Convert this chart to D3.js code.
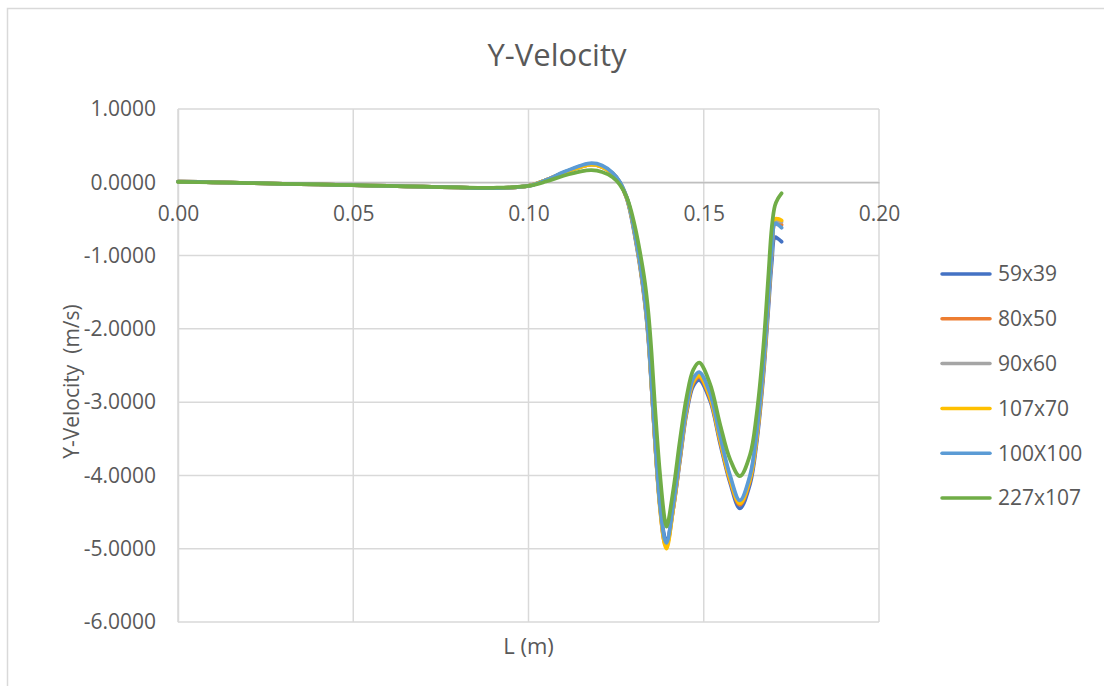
<!DOCTYPE html>
<html>
<head>
<meta charset="utf-8">
<script src="https://cdn.jsdelivr.net/npm/d3@7"></script>
<style>
  html, body { margin: 0; padding: 0; background: #ffffff; }
  svg { display: block; }
  text { font-family: "Open Sans", "Liberation Sans", sans-serif; fill: #595959; }
</style>
</head>
<body>
<svg id="chart" width="1104" height="686"></svg>
<script>
// Position along the section, L (m)
const positions = [0, 0.01, 0.02, 0.03, 0.04, 0.05, 0.06, 0.07, 0.08, 0.09,
  0.10, 0.105, 0.11, 0.115, 0.118, 0.121, 0.124, 0.126, 0.128, 0.129,
  0.1304, 0.1318, 0.1332, 0.1342, 0.1351, 0.1361, 0.1375, 0.1389, 0.1394, 0.1413,
  0.1432, 0.1451, 0.1470, 0.1487, 0.1518, 0.1546, 0.1575, 0.1603, 0.1632, 0.1651,
  0.1670, 0.1684, 0.1694, 0.1703, 0.1712, 0.1722];

// Y-velocity (m/s) for each mesh resolution
const mesh59x39 = [0.01, 0.0, -0.01, -0.02, -0.03, -0.04, -0.05, -0.06, -0.07, -0.08,
  -0.05, 0.03, 0.13, 0.22, 0.25, 0.22, 0.12, 0.0, -0.22, -0.40,
  -0.75, -1.15, -1.65, -2.15, -2.80, -3.55, -4.40, -4.85, -4.90, -4.45,
  -3.80, -3.15, -2.78, -2.70, -2.98, -3.55, -4.10, -4.45, -4.12, -3.55,
  -2.65, -1.75, -1.10, -0.75, -0.77, -0.81];
const mesh80x50 = [0.01, 0.0, -0.01, -0.02, -0.03, -0.04, -0.05, -0.06, -0.07, -0.08,
  -0.05, 0.03, 0.13, 0.21, 0.24, 0.21, 0.12, 0.0, -0.21, -0.38,
  -0.72, -1.12, -1.62, -2.12, -2.78, -3.55, -4.42, -4.93, -4.95, -4.45,
  -3.78, -3.12, -2.74, -2.66, -2.95, -3.52, -4.07, -4.40, -4.07, -3.50,
  -2.58, -1.66, -0.98, -0.56, -0.57, -0.58];
const mesh90x60 = [0.01, 0.0, -0.01, -0.02, -0.03, -0.04, -0.05, -0.06, -0.07, -0.08,
  -0.05, 0.03, 0.13, 0.21, 0.24, 0.21, 0.12, 0.0, -0.21, -0.38,
  -0.72, -1.11, -1.61, -2.11, -2.77, -3.53, -4.41, -4.91, -4.93, -4.43,
  -3.75, -3.09, -2.70, -2.62, -2.91, -3.48, -4.03, -4.37, -4.03, -3.46,
  -2.54, -1.62, -0.94, -0.52, -0.53, -0.54];
const mesh107x70 = [0.01, 0.0, -0.01, -0.02, -0.03, -0.04, -0.05, -0.06, -0.07, -0.08,
  -0.05, 0.03, 0.13, 0.21, 0.24, 0.21, 0.12, 0.0, -0.21, -0.38,
  -0.72, -1.12, -1.62, -2.12, -2.78, -3.55, -4.45, -4.95, -5.00, -4.45,
  -3.75, -3.10, -2.72, -2.64, -2.93, -3.50, -4.05, -4.38, -4.05, -3.48,
  -2.55, -1.62, -0.92, -0.50, -0.50, -0.52];
const mesh100x100 = [0.01, 0.0, -0.01, -0.02, -0.03, -0.04, -0.05, -0.06, -0.07, -0.08,
  -0.05, 0.03, 0.14, 0.23, 0.26, 0.23, 0.13, 0.01, -0.20, -0.37,
  -0.71, -1.10, -1.60, -2.10, -2.75, -3.50, -4.40, -4.88, -4.92, -4.40,
  -3.72, -3.06, -2.68, -2.59, -2.88, -3.45, -4.00, -4.34, -4.00, -3.42,
  -2.50, -1.60, -0.95, -0.56, -0.58, -0.62];
const mesh227x107 = [0.005, 0.0, -0.01, -0.02, -0.03, -0.04, -0.05, -0.06, -0.07, -0.075,
  -0.05, 0.01, 0.09, 0.15, 0.165, 0.14, 0.07, -0.03, -0.20, -0.34,
  -0.61, -0.95, -1.36, -1.78, -2.32, -3.07, -3.97, -4.61, -4.70, -4.20,
  -3.52, -2.93, -2.56, -2.46, -2.75, -3.29, -3.78, -4.01, -3.72, -3.16,
  -2.25, -1.30, -0.62, -0.32, -0.22, -0.15];

const seriesNames = ["59x39", "80x50", "90x60", "107x70", "100X100", "227x107"];
const seriesValues = [mesh59x39, mesh80x50, mesh90x60, mesh107x70, mesh100x100, mesh227x107];
const seriesColors = ["#4472C4", "#ED7D31", "#A5A5A5", "#FFC000", "#5B9BD5", "#70AD47"];

const xTicks = [0, 0.05, 0.10, 0.15, 0.20];
const yTicks = [1, 0, -1, -2, -3, -4, -5, -6];

const chartTitle = "Y-Velocity";
const xTitle = "L (m)";
const yTitle = "Y-Velocity  (m/s)";

// Layout
const plot = { left: 178, right: 879, top: 109, bottom: 622 };
const svg = d3.select("#chart");

// Chart area border
svg.append("rect")
  .attr("x", 7.5).attr("y", 8.5)
  .attr("width", 1120).attr("height", 700)
  .attr("fill", "#ffffff")
  .attr("stroke", "#d9d9d9").attr("stroke-width", 1.5);

const x = d3.scaleLinear().domain([0, 0.2]).range([plot.left, plot.right]);
const y = d3.scaleLinear().domain([-6, 1]).range([plot.bottom, plot.top]);

// Plain hyphen for negative numbers
const hyphen = f => d => f(d).replace("\u2212", "-");

// Gridlines
const grid = svg.append("g").attr("class", "grid");
grid.selectAll("line.h").data(yTicks).join("line")
  .attr("class", "h")
  .attr("x1", plot.left).attr("x2", plot.right)
  .attr("y1", d => y(d)).attr("y2", d => y(d))
  .attr("stroke", "#d9d9d9").attr("stroke-width", 1.5);
grid.selectAll("line.v").data(xTicks).join("line")
  .attr("class", "v")
  .attr("x1", d => x(d)).attr("x2", d => x(d))
  .attr("y1", plot.top).attr("y2", plot.bottom)
  .attr("stroke", "#d9d9d9").attr("stroke-width", 1.5);

// Y axis
const yAxis = svg.append("g")
  .attr("transform", `translate(${plot.left},0)`)
  .call(d3.axisLeft(y).tickValues(yTicks).tickFormat(hyphen(d3.format(".4f"))).tickSize(0).tickPadding(22));
yAxis.select(".domain").attr("stroke", "#d9d9d9").attr("stroke-width", 1.5);
yAxis.selectAll("text").style("font-size", "21px").attr("fill", "#595959");

// X axis crossing at zero
const xAxis = svg.append("g")
  .attr("transform", `translate(0,${y(0)})`)
  .call(d3.axisBottom(x).tickValues(xTicks).tickFormat(d3.format(".2f")).tickSize(0).tickPadding(24));
xAxis.select(".domain").attr("stroke", "#bfbfbf").attr("stroke-width", 1.5);
xAxis.selectAll("text").style("font-size", "21px").attr("fill", "#595959");

// Series lines
const line = d3.line()
  .x(d => x(d[0]))
  .y(d => y(d[1]))
  .curve(d3.curveCatmullRom.alpha(0.5));

svg.append("g").selectAll("path")
  .data(seriesValues)
  .join("path")
  .attr("d", vals => line(positions.map((p, i) => [p, vals[i]])))
  .attr("fill", "none")
  .attr("stroke", (d, i) => seriesColors[i])
  .attr("stroke-width", 3.75)
  .attr("stroke-linejoin", "round")
  .attr("stroke-linecap", "round");

// Titles
svg.append("text")
  .attr("x", 557).attr("y", 66)
  .attr("text-anchor", "middle")
  .style("font-size", "31px")
  .text(chartTitle);

svg.append("text")
  .attr("x", (plot.left + plot.right) / 2).attr("y", 654)
  .attr("text-anchor", "middle")
  .style("font-size", "22px")
  .text(xTitle);

svg.append("text")
  .attr("transform", `translate(79,${(plot.top + plot.bottom) / 2 + 16}) rotate(-90)`)
  .attr("text-anchor", "middle")
  .style("font-size", "21px")
  .attr("xml:space", "preserve")
  .text(yTitle);

// Legend
const legend = svg.append("g");
const legendRows = legend.selectAll("g")
  .data(seriesNames)
  .join("g")
  .attr("transform", (d, i) => `translate(942,${274 + i * 44.8})`);
legendRows.append("line")
  .attr("x1", 0).attr("x2", 48)
  .attr("y1", 0).attr("y2", 0)
  .attr("stroke", (d, i) => seriesColors[i])
  .attr("stroke-width", 3.5)
  .attr("stroke-linecap", "round");
legendRows.append("text")
  .attr("x", 56).attr("y", 0).attr("dy", "0.35em")
  .style("font-size", "21px")
  .text(d => d);
</script>
</body>
</html>
